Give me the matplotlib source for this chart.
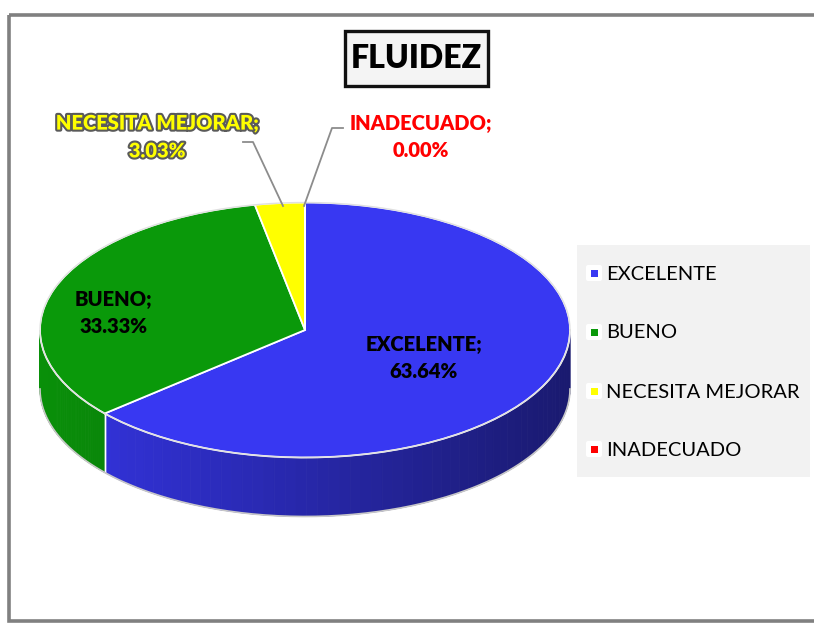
import matplotlib
matplotlib.use("Agg")
import matplotlib.pyplot as plt
import matplotlib.patheffects as pe
from matplotlib.patches import Rectangle, Polygon, FancyBboxPatch
import numpy as np

# ── data ─────────────────────────────────────────────────────────────────────
categories = ["EXCELENTE", "BUENO", "NECESITA MEJORAR", "INADECUADO"]
values = [63.64, 33.33, 3.03, 0.00]
colors = ["#3838F2", "#0A990A", "#FFFF00", "#FF0000"]
title = "FLUIDEZ"

W, H = 814, 625
fig = plt.figure(figsize=(W / 100, H / 100), dpi=100)
fig.patch.set_facecolor("white")

# ── pie (top ellipse + extruded side) ────────────────────────────────────────
cx, cy, a, b = 305, 330, 265, 127.5
depth = 59 / b
xl, yl_lo, yl_hi = 1.1, -1.6, 1.1
left = (cx - xl * a) / W
width = 2 * xl * a / W
top_px = cy - yl_hi * b
bot_px = cy - yl_lo * b
ax = fig.add_axes([left, (H - bot_px) / H, width, (bot_px - top_px) / H], zorder=1)
ax.patch.set_alpha(0)

wedges, _ = ax.pie(values, colors=colors, startangle=90, counterclock=False,
                   wedgeprops=dict(edgecolor="white", linewidth=1.3))
for w in wedges:
    w.set_zorder(3)
ax.set_aspect("auto")
ax.set_xlim(-xl, xl)
ax.set_ylim(yl_lo, yl_hi)
ax.axis("off")

fracs = np.array(values) / sum(values)
cum = np.concatenate([[0], np.cumsum(fracs)])
for i, col in enumerate(colors):
    t_start = 90 - 360 * cum[i]
    t_end = 90 - 360 * cum[i + 1]
    if t_start - t_end <= 0:
        continue
    base = np.array(matplotlib.colors.to_rgb(col))
    for k in (-1, 0, 1):
        lo = max(t_end, -180 + 360 * k)
        hi = min(t_start, 0 + 360 * k)
        if hi <= lo:
            continue
        ts = np.radians(np.linspace(lo, hi, 60))
        for t0, t1 in zip(ts[:-1], ts[1:]):
            tm = 0.5 * (t0 + t1)
            f = 0.70 - 0.24 * np.cos(tm)
            c = np.clip(base * f, 0, 1)
            pts = [(np.cos(t0), np.sin(t0)), (np.cos(t1), np.sin(t1)),
                   (np.cos(t1), np.sin(t1) - depth), (np.cos(t0), np.sin(t0) - depth)]
            ax.add_patch(Polygon(pts, closed=True, facecolor=c, edgecolor=c,
                                 lw=0.6, zorder=1))
        # boundary line between slices on the side
        for tb in (lo, hi):
            if -180 + 360 * k < tb < 360 * k:
                r = np.radians(tb)
                ax.plot([np.cos(r)] * 2, [np.sin(r), np.sin(r) - depth],
                        color="white", lw=1.0, zorder=2)

tt = np.radians(np.linspace(-180, 0, 200))
ax.plot(np.cos(tt), np.sin(tt) - depth, color="#c8c8c8", lw=1.2, zorder=2)
tt_all = np.radians(np.linspace(0, 360, 400))
ax.plot(np.cos(tt_all), np.sin(tt_all), color="#e0e0e0", lw=1.0, zorder=4)

# pixel overlay for frame, title box, labels and legend (drawn above the pie)
bg = fig.add_axes([0, 0, 1, 1], zorder=2)
bg.patch.set_alpha(0)
bg.set_xlim(0, W)
bg.set_ylim(H, 0)
bg.axis("off")

bg.add_patch(Rectangle((9, 15), W + 20, 606, facecolor="none",
                       edgecolor="#808080", lw=2.6, zorder=0))

# ── title box ────────────────────────────────────────────────────────────────
bg.add_patch(FancyBboxPatch((345, 31), 143, 55, boxstyle="square,pad=0",
                            facecolor="#f4f4f4", edgecolor="#111111", lw=2.4, zorder=5))
bg.text(416.5, 59, title, ha="center", va="center", fontsize=23,
        fontweight="heavy", family="Lato", color="black", zorder=6)

# ── data labels ──────────────────────────────────────────────────────────────
lab_font = dict(family="Lato", fontweight="heavy", fontsize=14.5, ha="center",
                va="center", linespacing=1.55)
bg.text(424, 358, f"{categories[0]};\n{values[0]:.2f}%", color="black",
        zorder=6, **lab_font)
bg.text(114, 313, f"{categories[1]};\n{values[1]:.2f}%", color="black",
        zorder=6, **lab_font)
bg.text(157, 137, f"{categories[2]};\n{values[2]:.2f}%", color="#FFFF00", zorder=6,
        path_effects=[pe.withStroke(linewidth=3, foreground="#5a5a5a")], **lab_font)
bg.text(421, 137, f"{categories[3]};\n{values[3]:.2f}%", color="#FF0000",
        zorder=6, **lab_font)

# leader lines
bg.plot([243, 253, 283], [142, 142, 206], color="#8c8c8c", lw=1.3, zorder=6)
bg.plot([343, 332, 304], [128, 128, 206], color="#8c8c8c", lw=1.3, zorder=6)

# ── legend ───────────────────────────────────────────────────────────────────
bg.add_patch(Rectangle((577, 245), 233, 232, facecolor="#f2f2f2",
                       edgecolor="none", zorder=5))
leg_y = [273, 332, 391, 449]
for cat, col, y in zip(categories, colors, leg_y):
    bg.add_patch(FancyBboxPatch((586, y - 8), 16, 16,
                                boxstyle="round,pad=0,rounding_size=2",
                                facecolor="white", edgecolor="none", zorder=6))
    bg.add_patch(Rectangle((590.5, y - 3.5), 7, 7, facecolor=col,
                           edgecolor="none", zorder=7))
    bg.text(606, y + 1, cat, fontsize=14.5, family="Lato", color="black",
            ha="left", va="center", zorder=7)

fig.savefig("out.png", dpi=100)
